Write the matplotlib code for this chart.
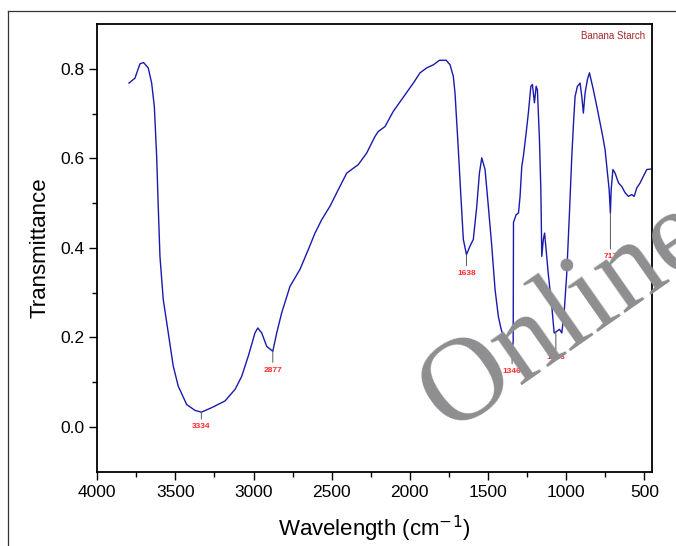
import matplotlib
matplotlib.use("Agg")
import matplotlib.pyplot as plt
from matplotlib.lines import Line2D
import numpy as np

plt.rcParams['font.family'] = ['Liberation Sans', 'DejaVu Sans']

# FTIR spectrum (wavenumber in cm-1, transmittance)
wn = [3797, 3759, 3727, 3704, 3674, 3652, 3635, 3620, 3610, 3599,
      3578, 3546, 3514, 3482, 3428, 3375, 3334, 3268, 3183, 3118,
      3076, 3034, 2991, 2973, 2948, 2916, 2877, 2852, 2820, 2767,
      2703, 2650, 2607, 2564, 2511, 2458, 2404, 2330, 2276, 2223,
      2202, 2159, 2106, 2031, 1978, 1935, 1892, 1849, 1811, 1768,
      1743, 1722, 1711, 1700, 1690, 1676, 1658, 1638, 1615, 1594,
      1572, 1555, 1540, 1519, 1498, 1476, 1455, 1434, 1416, 1395,
      1370, 1346, 1339, 1337, 1320, 1305, 1295, 1284, 1274, 1256,
      1242, 1226, 1216, 1203, 1192, 1184, 1171, 1162, 1156, 1146,
      1138, 1128, 1114, 1092, 1077, 1066, 1043, 1028, 1013, 996,
      979, 964, 953, 943, 928, 911, 900, 890, 879, 864,
      851, 826, 804, 783, 766, 751, 736, 725, 717, 712,
      701, 687, 665, 644, 623, 602, 580, 565, 548, 527,
      506, 484, 458]
trans = [0.768, 0.779, 0.811, 0.814, 0.802, 0.768, 0.716, 0.604, 0.493, 0.381,
         0.285, 0.210, 0.136, 0.091, 0.050, 0.037, 0.033, 0.043, 0.058, 0.084,
         0.113, 0.158, 0.210, 0.221, 0.210, 0.180, 0.169, 0.210, 0.255, 0.314,
         0.352, 0.396, 0.433, 0.463, 0.493, 0.530, 0.567, 0.586, 0.612, 0.649,
         0.660, 0.671, 0.705, 0.742, 0.768, 0.791, 0.802, 0.809, 0.819, 0.819,
         0.809, 0.783, 0.745, 0.679, 0.620, 0.530, 0.419, 0.385, 0.404, 0.419,
         0.493, 0.567, 0.601, 0.575, 0.493, 0.404, 0.307, 0.247, 0.218, 0.195,
         0.180, 0.175, 0.190, 0.457, 0.474, 0.478, 0.515, 0.582, 0.604, 0.657,
         0.701, 0.761, 0.765, 0.724, 0.761, 0.753, 0.642, 0.530, 0.381, 0.419,
         0.433, 0.395, 0.340, 0.270, 0.210, 0.212, 0.218, 0.210, 0.255, 0.344,
         0.478, 0.604, 0.679, 0.738, 0.761, 0.768, 0.738, 0.701, 0.746, 0.776,
         0.791, 0.753, 0.716, 0.679, 0.649, 0.619, 0.567, 0.530, 0.478, 0.530,
         0.575, 0.567, 0.545, 0.537, 0.523, 0.515, 0.519, 0.515, 0.534, 0.545,
         0.560, 0.575, 0.576]

peak_wn = [3334, 2877, 1638, 1346, 1066, 717]
peak_len = [8, 11, 11, 14, 16, 29]  # leader length, points

fig = plt.figure(figsize=(6.76, 5.46), dpi=100)
ax = fig.add_axes([0.1439, 0.1361, 0.964 - 0.1439, 0.956 - 0.1361])

ax.plot(wn, trans, color='#1a1aac', lw=1.0)

peak_T = np.interp(peak_wn, wn[::-1], trans[::-1])
for w, t, L in zip(peak_wn, peak_T, peak_len):
    ax.annotate(str(w), xy=(w, t), xytext=(0, -L), textcoords='offset points',
                ha='center', va='top', fontsize=6, fontweight='bold', color='#ff2b2b',
                arrowprops=dict(arrowstyle='-', color='#555555', lw=0.7,
                                shrinkA=1, shrinkB=0, relpos=(0.5, 1.0)))

ax.text(0.988, 0.985, 'Banana Starch', transform=ax.transAxes, ha='right', va='top',
        fontsize=7, color='#a3282a')

ax.set_xlim(4000, 453)
ax.set_ylim(-0.1, 0.9)
ax.set_xticks(np.arange(4000, 499, -500))
ax.set_xticks(np.arange(3750, 499, -500), minor=True)
ax.set_yticks([0.0, 0.2, 0.4, 0.6, 0.8])
ax.set_yticks([0.1, 0.3, 0.5, 0.7], minor=True)
ax.set_yticklabels(['0.0', '0.2', '0.4', '0.6', '0.8'])
ax.tick_params(which='both', direction='out', top=False, right=False, labelsize=12.5, width=1.0)
ax.tick_params(which='major', length=6)
ax.tick_params(which='minor', length=3.5)
for s in ax.spines.values():
    s.set_linewidth(1.3)

ax.set_xlabel('Wavelength (cm$^{-1}$)', fontsize=16, labelpad=10)
ax.set_ylabel('Transmittance', fontsize=16, labelpad=7)

# outer frame lines
fig.add_artist(Line2D([8 / 676, 1], [1 - 11 / 546, 1 - 11 / 546], color='#333333', lw=0.9))
fig.add_artist(Line2D([8 / 676, 8 / 676], [0, 1 - 11 / 546], color='#333333', lw=0.9))

# watermark
fig.text(449 / 676, 1 - 433 / 546, 'Online', family='Liberation Serif', fontsize=86,
         color='#8e8e90', rotation=35, rotation_mode='anchor', ha='left', va='baseline',
         zorder=10)

fig.savefig('out.png', dpi=100)
